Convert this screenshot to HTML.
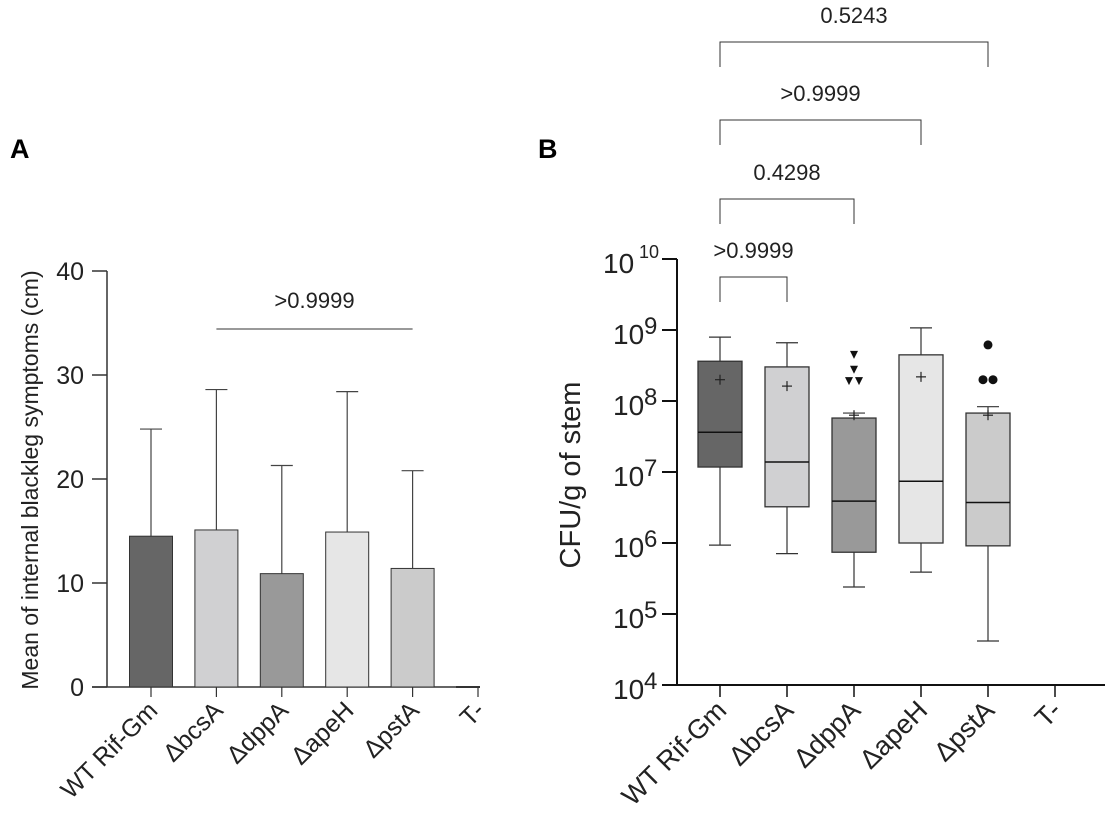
<!DOCTYPE html>
<html><head><meta charset="utf-8"><style>
body{margin:0;background:#fff;}
svg{display:block;font-family:"Liberation Sans",Arial,sans-serif;}
</style></head><body>
<svg id="s" width="1109" height="815" viewBox="0 0 1109 815">
<text x="10" y="158" font-size="27" font-weight="bold">A</text>
<text x="538" y="158" font-size="27" font-weight="bold">B</text>
<g id="ga"></g>
<g id="gb"></g>
</svg>
<script>
const categories=["WT Rif-Gm","\u0394bcsA","\u0394dppA","\u0394apeH","\u0394pstA","T-"];
const barMeans=[14.5,15.1,10.9,14.9,11.4,0];
const barErrTop=[24.8,28.6,21.3,28.4,20.8,0];
const barFills=["#666","#d0d0d2","#999","#e6e6e6","#cbcbcb","#fff"];
const aTicks=[0,10,20,30,40];
const bQ3=[8.56,8.48,7.76,8.65,7.83];
const bQ1=[7.07,6.51,5.87,6.0,5.96];
const bMed=[7.56,7.14,6.59,6.87,6.57];
const bWhiskTop=[8.90,8.82,7.83,9.03,7.92];
const bWhiskBot=[5.97,5.85,5.38,5.59,4.62];
const bMean=[8.30,8.21,7.80,8.34,7.80];
const bOutTri=[[8.65,0],[8.44,0],[8.28,-5],[8.28,5]];
const bOutCirc=[[8.79,0],[8.30,-5],[8.30,5]];
const bTicks=[4,5,6,7,8,9,10];
const NS="http://www.w3.org/2000/svg";
function el(p,t,a,txt){const e=document.createElementNS(NS,t);for(const k in a)e.setAttribute(k,a[k]);if(txt!==undefined)e.textContent=txt;p.appendChild(e);return e;}
const ga=document.getElementById('ga'),gb=document.getElementById('gb');
const yA=v=>687-v*10.4, xA=i=>151+i*65.4;
let e;
e=el(ga,'line',{x1:107,y1:271,x2:107,y2:687,stroke:'#333','stroke-width':1.5});

e=el(ga,'line',{x1:92,y1:687,x2:480,y2:687,stroke:'#333','stroke-width':1.5});

aTicks.forEach(t=>{
 el(ga,'line',{x1:92,y1:yA(t),x2:107,y2:yA(t),stroke:'#333','stroke-width':1.5});
 e=el(ga,'text',{x:84,y:yA(t)+9,'font-size':25,'text-anchor':'end',fill:'#222'},t);
 
});
e=el(ga,'text',{transform:'translate(38,480) rotate(-90)','font-size':23,'text-anchor':'middle',fill:'#222'},'Mean of internal blackleg symptoms (cm)');

categories.forEach((c,i)=>{
 const x=xA(i);
 if(i<5){
  el(ga,'line',{x1:x,y1:yA(barErrTop[i]),x2:x,y2:yA(barMeans[i]),stroke:'#444','stroke-width':1.2});
  el(ga,'line',{x1:x-11,y1:yA(barErrTop[i]),x2:x+11,y2:yA(barErrTop[i]),stroke:'#444','stroke-width':1.2});
  e=el(ga,'rect',{x:x-21.5,y:yA(barMeans[i]),width:43,height:yA(0)-yA(barMeans[i]),fill:barFills[i],stroke:'#333','stroke-width':1});
  
 } else {
  el(ga,'line',{x1:x-22,y1:687,x2:x+2,y2:687,stroke:'#333','stroke-width':2});
 }
 el(ga,'line',{x1:x,y1:687,x2:x,y2:697,stroke:'#333','stroke-width':1.2});
 e=el(ga,'text',{transform:`translate(${x+8},${712}) rotate(-45)`,'font-size':25,'text-anchor':'end',fill:'#222'},c);
 
});
el(ga,'line',{x1:xA(1),y1:329,x2:xA(4),y2:329,stroke:'#333','stroke-width':1});
e=el(ga,'text',{x:(xA(1)+xA(4))/2,y:308,'font-size':22,'text-anchor':'middle',fill:'#222'},'>0.9999');

const yB=v=>685-(v-4)*71, xB=i=>720+i*67;
e=el(gb,'line',{x1:677,y1:259,x2:677,y2:686,stroke:'#111','stroke-width':2});

e=el(gb,'line',{x1:662,y1:685,x2:1105,y2:685,stroke:'#111','stroke-width':2});

bTicks.forEach(t=>{
 el(gb,'line',{x1:662,y1:yB(t),x2:677,y2:yB(t),stroke:'#111','stroke-width':2});
 e=el(gb,'text',{x:t==10?603:613,y:yB(t)+14,'font-size':28,fill:'#222'},'10');
 
 el(gb,'text',{x:t==10?639:644,y:yB(t)+(t==10?-1:4),'font-size':t==10?18:24,fill:'#222'},String(t));
});
e=el(gb,'text',{transform:'translate(580,475) rotate(-90)','font-size':29,'text-anchor':'middle',fill:'#222'},'CFU/g of stem');

categories.forEach((c,i)=>{
 const x=xB(i);
 if(i<5){
  el(gb,'line',{x1:x,y1:yB(bWhiskTop[i]),x2:x,y2:yB(bWhiskBot[i]),stroke:'#333','stroke-width':1.2});
  [bWhiskTop[i],bWhiskBot[i]].forEach(v=>el(gb,'line',{x1:x-11,y1:yB(v),x2:x+11,y2:yB(v),stroke:'#333','stroke-width':1.2}));
  e=el(gb,'rect',{x:x-22,y:yB(bQ3[i]),width:44,height:yB(bQ1[i])-yB(bQ3[i]),fill:barFills[i],stroke:'#333','stroke-width':1.3});
  
  el(gb,'line',{x1:x-22,y1:yB(bMed[i]),x2:x+22,y2:yB(bMed[i]),stroke:'#111','stroke-width':1.5});
  const my=yB(bMean[i]);
  el(gb,'line',{x1:x-5,y1:my,x2:x+5,y2:my,stroke:'#222','stroke-width':1.2});
  el(gb,'line',{x1:x,y1:my-5,x2:x,y2:my+5,stroke:'#222','stroke-width':1.2});
 }
 el(gb,'line',{x1:x,y1:685,x2:x,y2:697,stroke:'#111','stroke-width':1.5});
 e=el(gb,'text',{transform:`translate(${x+8},${712}) rotate(-45)`,'font-size':27,'text-anchor':'end',fill:'#222'},c);
 
});
bOutTri.forEach(o=>{const x=xB(2)+o[1],y=yB(o[0]);
 e=el(gb,'path',{d:`M${x-4},${y-4}L${x+4},${y-4}L${x},${y+4}Z`,fill:'#111'});
 });
bOutCirc.forEach(o=>{const x=xB(4)+o[1],y=yB(o[0]);
 e=el(gb,'circle',{cx:x,cy:y,r:4.5,fill:'#111'});
 });
const brackets=[[1,277,'>0.9999'],[2,199,'0.4298'],[3,120,'>0.9999'],[4,42,'0.5243']];
brackets.forEach(b=>{const x1=xB(0),x2=xB(b[0]),y=b[1];
 el(gb,'path',{d:`M${x1},${y+25}V${y}H${x2}V${y+25}`,fill:'none',stroke:'#333','stroke-width':1});
 e=el(gb,'text',{x:(x1+x2)/2,y:y-19,'font-size':22,'text-anchor':'middle',fill:'#222'},b[2]);
 });
</script>
</body></html>
